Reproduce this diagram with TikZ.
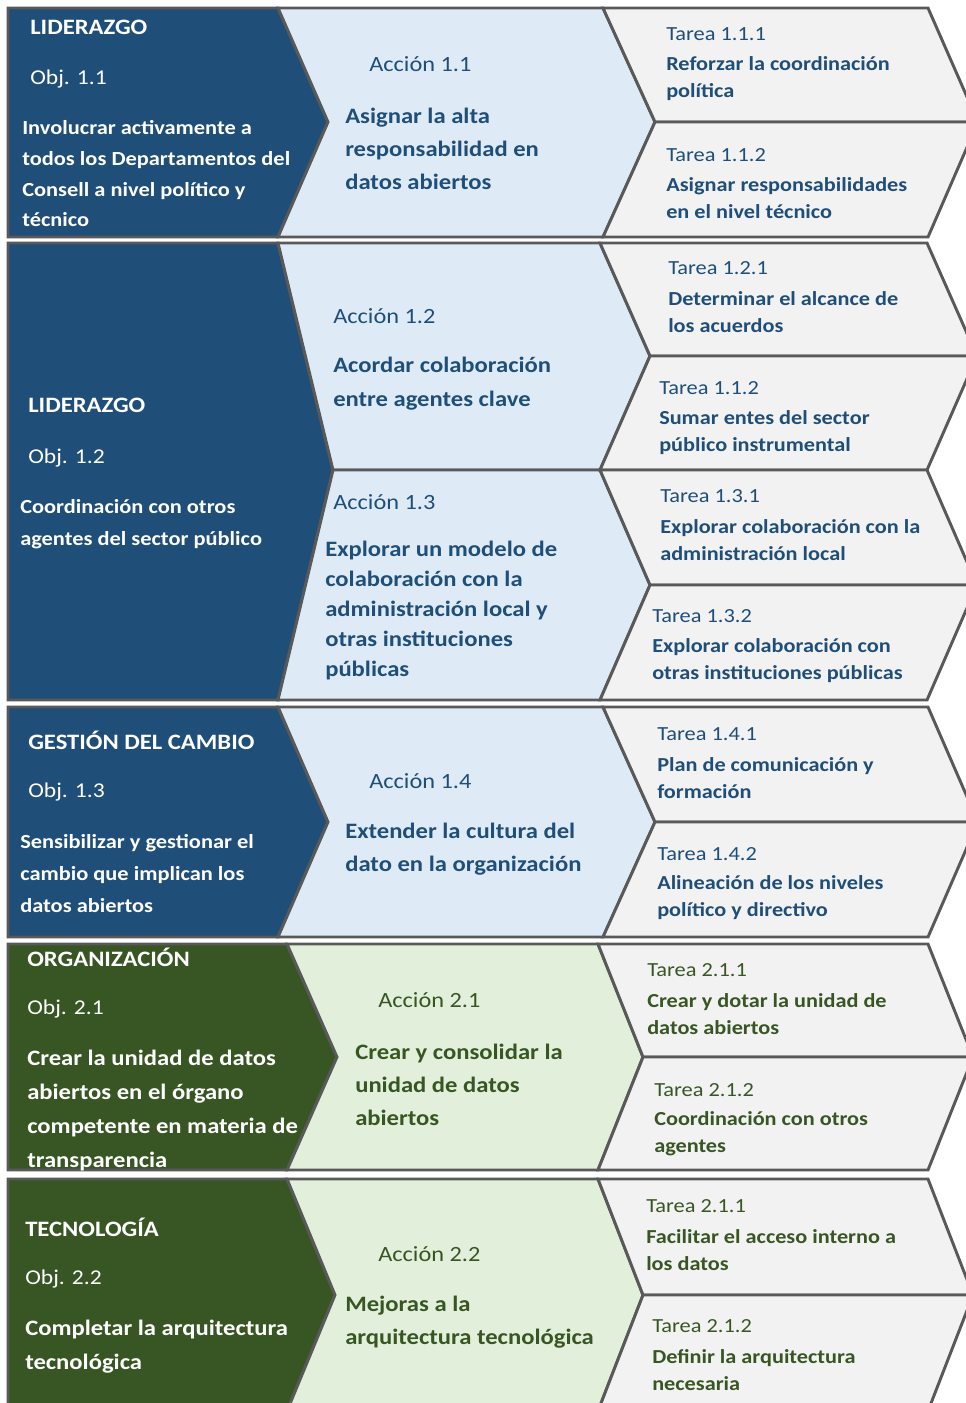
\documentclass[tikz,border=0pt]{standalone}
\usepackage{fontspec}
\setmainfont{Carlito}[FakeStretch=1.12]
\definecolor{planblue}{RGB}{31,78,121}
\definecolor{planlightblue}{RGB}{222,235,247}
\definecolor{plangray}{RGB}{242,242,242}
\definecolor{plangreen}{RGB}{56,86,35}
\definecolor{planlightgreen}{RGB}{226,239,218}
\definecolor{planedge}{RGB}{89,89,89}
\usetikzlibrary{positioning}

\tikzset{
  band/.style={draw=planedge, line width=2.2pt, line join=miter},
  objhead/.style={anchor=west, inner sep=0pt, text=white, font=\fontsize{16.5}{19}\selectfont\bfseries},
  objnum/.style={anchor=west, inner sep=0pt, text=white, font=\fontsize{15.8}{19}\selectfont},
  objtext/.style={anchor=west, inner sep=0pt, align=left, text=white, font=\fontsize{15}{23}\selectfont\bfseries},
  acclabel/.style={anchor=west, inner sep=0pt, font=\fontsize{16.3}{19}\selectfont},
  acctext/.style={anchor=west, inner sep=0pt, align=left, font=\fontsize{16.5}{24.75}\selectfont\bfseries},
  tasklabel/.style={anchor=west, inner sep=0pt, font=\fontsize{15}{17}\selectfont},
  tasktext/.style={anchor=west, inner sep=0pt, align=left, font=\fontsize{14.9}{20.25}\selectfont\bfseries}
}

\begin{document}
\begin{tikzpicture}[x=0.75pt, y=-0.75pt]
  \useasboundingbox (0,0) rectangle (966,1403);
  \fill[white] (0,0) rectangle (966,1403);
  \clip (0,0) rectangle (966,1403);

  % Liderazgo, Obj. 1.1
  \filldraw[band, fill=planblue] (8,8) -- (278,8) -- (328,122) -- (278,237) -- (8,237) -- cycle;
  \filldraw[band, fill=planlightblue] (278,8) -- (603,8) -- (655,122) -- (603,237) -- (278,237) -- (328,122) -- cycle;
  \filldraw[band, fill=plangray] (603,8) -- (928,8) -- (978,122) -- (655,122) -- cycle;
  \filldraw[band, fill=plangray] (655,122) -- (978,122) -- (928,237) -- (603,237) -- cycle;

  % Liderazgo, Obj. 1.2
  \filldraw[band, fill=planblue] (8,243) -- (278,243) -- (333,470) -- (278,700) -- (8,700) -- cycle;
  \filldraw[band, fill=planlightblue] (278,243) -- (600,243) -- (650,356) -- (600,470) -- (333,470) -- cycle;
  \filldraw[band, fill=planlightblue] (333,470) -- (600,470) -- (650,585) -- (600,700) -- (278,700) -- cycle;
  \filldraw[band, fill=plangray] (600,243) -- (927,243) -- (977,356) -- (650,356) -- cycle;
  \filldraw[band, fill=plangray] (650,356) -- (977,356) -- (927,470) -- (600,470) -- cycle;
  \filldraw[band, fill=plangray] (600,470) -- (927,470) -- (977,585) -- (650,585) -- cycle;
  \filldraw[band, fill=plangray] (650,585) -- (977,585) -- (927,700) -- (600,700) -- cycle;

  % Gestion del cambio
  \filldraw[band, fill=planblue] (8,707) -- (278,707) -- (328,822) -- (278,937) -- (8,937) -- cycle;
  \filldraw[band, fill=planlightblue] (278,707) -- (603,707) -- (655,822) -- (603,937) -- (278,937) -- (328,822) -- cycle;
  \filldraw[band, fill=plangray] (603,707) -- (928,707) -- (978,822) -- (655,822) -- cycle;
  \filldraw[band, fill=plangray] (655,822) -- (978,822) -- (928,937) -- (603,937) -- cycle;

  % Organizacion
  \filldraw[band, fill=plangreen] (8,944) -- (287,944) -- (337,1057) -- (287,1170) -- (8,1170) -- cycle;
  \filldraw[band, fill=planlightgreen] (287,944) -- (598,944) -- (643,1057) -- (598,1170) -- (287,1170) -- (337,1057) -- cycle;
  \filldraw[band, fill=plangray] (598,944) -- (928,944) -- (973,1057) -- (643,1057) -- cycle;
  \filldraw[band, fill=plangray] (643,1057) -- (973,1057) -- (928,1170) -- (598,1170) -- cycle;

  % Tecnologia
  \filldraw[band, fill=plangreen] (8,1179) -- (287,1179) -- (335,1295) -- (287,1411) -- (8,1411) -- cycle;
  \filldraw[band, fill=planlightgreen] (287,1179) -- (598,1179) -- (643,1295) -- (598,1411) -- (287,1411) -- (335,1295) -- cycle;
  \filldraw[band, fill=plangray] (598,1179) -- (928,1179) -- (973,1295) -- (643,1295) -- cycle;
  \filldraw[band, fill=plangray] (643,1295) -- (973,1295) -- (928,1411) -- (598,1411) -- cycle;

  \begin{scope}[text=planblue]
    \node[objhead] (lid11) at (30,27) {LIDERAZGO};
    \node[objnum] (obj11) at (30,79) {Obj. 1.1};
    \node[objtext] (obj11txt) at (22,174) {Involucrar activamente a\\todos los Departamentos del\\Consell a nivel político y\\técnico};
    \node[acclabel] (acc11) at (369,64) {Acción 1.1};
    \node[acctext] (acc11txt) at (345,149) {Asignar la alta\\responsabilidad en\\datos abiertos};
    \node[tasklabel] (tar111) at (666,34) {Tarea 1.1.1};
    \node[tasktext] (tar111txt) at (666,78.5) {Reforzar la coordinación\\política};
    \node[tasklabel] (tar112) at (666,155) {Tarea 1.1.2};
    \node[tasktext] (tar112txt) at (666,198.5) {Asignar responsabilidades\\en el nivel técnico};

    \node[objhead] (lid12) at (28,405) {LIDERAZGO};
    \node[objnum] (obj12) at (28,458) {Obj. 1.2};
    \node[objtext, font=\fontsize{15}{24}\selectfont\bfseries] (obj12txt) at (20,524) {Coordinación con otros\\agentes del sector público};
    \node[acclabel] (acc12) at (333,316) {Acción 1.2};
    \node[acctext, font=\fontsize{16.5}{25.5}\selectfont\bfseries] (acc12txt) at (333,384) {Acordar colaboración\\entre agentes clave};
    \node[acclabel] (acc13) at (333,502) {Acción 1.3};
    \node[acctext, font=\fontsize{16.5}{22.5}\selectfont\bfseries] (acc13txt) at (325,610.5) {Explorar un modelo de\\colaboración con la\\administración local y\\otras instituciones\\públicas};
    \node[tasklabel] (tar121) at (668,268) {Tarea 1.2.1};
    \node[tasktext] (tar121txt) at (668,312.5) {Determinar el alcance de\\los acuerdos};
    \node[tasklabel] (tar122) at (659,388) {Tarea 1.1.2};
    \node[tasktext] (tar122txt) at (659,432.5) {Sumar entes del sector\\público instrumental};
    \node[tasklabel] (tar131) at (660,496) {Tarea 1.3.1};
    \node[tasktext] (tar131txt) at (660,540.5) {Explorar colaboración con la\\administración local};
    \node[tasklabel] (tar132) at (652,616) {Tarea 1.3.2};
    \node[tasktext] (tar132txt) at (652,660.5) {Explorar colaboración con\\otras instituciones públicas};

    \node[objhead] (ges13) at (28,740) {GESTIÓN DEL CAMBIO};
    \node[objnum] (obj13) at (28,792) {Obj. 1.3};
    \node[objtext, font=\fontsize{15}{24}\selectfont\bfseries] (obj13txt) at (20,874) {Sensibilizar y gestionar el\\cambio que implican los\\datos abiertos};
    \node[acclabel] (acc14) at (369,781) {Acción 1.4};
    \node[acctext] (acc14txt) at (345,849.5) {Extender la cultura del\\dato en la organización};
    \node[tasklabel] (tar141) at (657,734) {Tarea 1.4.1};
    \node[tasktext] (tar141txt) at (657,778) {Plan de comunicación y\\formación};
    \node[tasklabel] (tar142) at (657,854) {Tarea 1.4.2};
    \node[tasktext] (tar142txt) at (657,898) {Alineación de los niveles\\político y directivo};
  \end{scope}

  \begin{scope}[text=plangreen]
    \node[objhead] (org21) at (27,957) {ORGANIZACIÓN};
    \node[objnum] (obj21) at (27,1009) {Obj. 2.1};
    \node[objtext, font=\fontsize{16.5}{25.3}\selectfont\bfseries] (obj21txt) at (27,1110.5) {Crear la unidad de datos\\abiertos en el órgano\\competente en materia de\\transparencia};
    \node[acclabel] (acc21) at (378,1000) {Acción 2.1};
    \node[acctext] (acc21txt) at (355,1085) {Crear y consolidar la\\unidad de datos\\abiertos};
    \node[tasklabel] (tar211) at (647,970) {Tarea 2.1.1};
    \node[tasktext] (tar211txt) at (647,1014) {Crear y dotar la unidad de\\datos abiertos};
    \node[tasklabel] (tar212) at (654,1090) {Tarea 2.1.2};
    \node[tasktext] (tar212txt) at (654,1134) {Coordinación con otros\\agentes};

    \node[objhead] (tec22) at (25,1227) {TECNOLOGÍA};
    \node[objnum] (obj22) at (25,1279) {Obj. 2.2};
    \node[objtext, font=\fontsize{16.5}{25.5}\selectfont\bfseries] (obj22txt) at (25,1347) {Completar la arquitectura\\tecnológica};
    \node[acclabel] (acc22) at (378,1254) {Acción 2.2};
    \node[acctext] (acc22txt) at (345,1322.5) {Mejoras a la\\arquitectura tecnológica};
    \node[tasklabel] (tar221) at (646,1206) {Tarea 2.1.1};
    \node[tasktext] (tar221txt) at (646,1250) {Facilitar el acceso interno a\\los datos};
    \node[tasklabel] (tar222) at (652,1326) {Tarea 2.1.2};
    \node[tasktext] (tar222txt) at (652,1370.5) {Definir la arquitectura\\necesaria};
  \end{scope}
\end{tikzpicture}
\end{document}
